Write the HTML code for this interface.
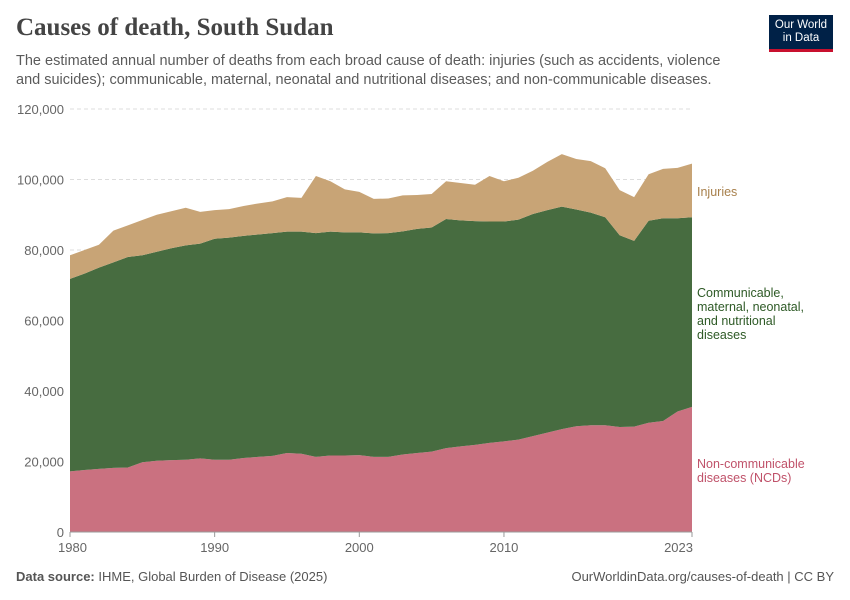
<!DOCTYPE html>
<html><head><meta charset="utf-8"><style>
body{margin:0;width:850px;height:600px;background:#fff;font-family:"Liberation Sans",sans-serif;position:relative;overflow:hidden}
.t{position:absolute;margin:0}
</style></head><body>
<h1 class="t" style="left:16px;top:14px;font-family:'Liberation Serif',serif;font-weight:bold;font-size:25px;color:#444">Causes of death, South Sudan</h1>
<p class="t" style="left:16px;top:52px;width:720px;font-size:14.5px;line-height:19px;color:#5b5b5b">The estimated annual number of deaths from each broad cause of death: injuries (such as accidents, violence and suicides); communicable, maternal, neonatal and nutritional diseases; and non-communicable diseases.</p>
<div style="position:absolute;left:769px;top:15px;width:64px;height:37px;background:#002147;border-bottom:3px solid #c8102e;color:#fff;font-size:11.5px;line-height:13px;text-align:center;padding-top:4px;box-sizing:border-box">Our World<br>in Data</div>
<svg id="c" width="850" height="600" style="position:absolute;left:0;top:0"></svg>
<p class="t" style="left:16px;top:569px;font-size:13px;color:#555"><b>Data source:</b> IHME, Global Burden of Disease (2025)</p>
<p class="t" style="right:16px;top:569px;font-size:13px;color:#555">OurWorldinData.org/causes-of-death | CC BY</p>
<script>
const years=[];for(let y=1980;y<=2023;y++)years.push(y);
const ncdVals=[17.2,17.6,17.9,18.2,18.3,19.8,20.2,20.4,20.5,20.9,20.5,20.5,21,21.3,21.6,22.4,22.2,21.3,21.7,21.7,21.8,21.3,21.3,22,22.4,22.8,23.8,24.3,24.7,25.3,25.7,26.2,27.2,28.2,29.2,30,30.3,30.3,29.8,29.9,31,31.5,34.2,35.5].map(v=>v*1000);
const commVals=[54.6,55.7,57.1,58.3,59.7,58.7,59.3,60.1,60.8,60.9,62.7,63.0,63.0,63.1,63.2,62.8,63.0,63.5,63.5,63.3,63.2,63.4,63.5,63.3,63.6,63.6,65.0,64.1,63.5,62.8,62.4,62.4,63.0,63.1,63.1,61.5,60.3,59.0,54.4,52.7,57.3,57.5,54.8,53.8].map(v=>v*1000);
const injVals=[6.7,6.7,6.5,9.0,9.0,10.0,10.5,10.5,10.7,9.0,8.1,8.1,8.5,8.8,9.0,9.8,9.6,16.2,14.3,12.2,11.5,9.8,9.8,10.2,9.6,9.5,10.7,10.6,10.3,12.9,11.4,11.9,12.3,13.7,14.9,14.3,14.6,13.9,12.8,12.4,13.2,14.0,14.3,15.2].map(v=>v*1000);
const yTicks=[0,20000,40000,60000,80000,100000,120000];
const xTicks=[1980,1990,2000,2010,2023];
const NS='http://www.w3.org/2000/svg',svg=document.getElementById('c');
const x=y=>70+(y-1980)*(692-70)/43, yy=v=>532-v*(532-109)/120000;
function el(t,a){const e=document.createElementNS(NS,t);for(const k in a)e.setAttribute(k,a[k]);svg.appendChild(e);return e;}
yTicks.forEach(v=>{
 if(v>0){const l=el('line',{x1:70,x2:692,y1:yy(v),y2:yy(v),stroke:'#ddd','stroke-dasharray':'4,3'});
 }
 const t=el('text',{x:64,y:yy(v)+5,'text-anchor':'end','font-size':13,fill:'#666'});t.textContent=v.toLocaleString('en-US');
 
});
const series=[[ncdVals,'#ca7180','ncd-area'],[commVals,'#476c40','communicable-area'],[injVals,'#c8a476','injuries-area']];
let base=years.map(()=>0);
series.forEach(([vals,col,nm])=>{
 const top=base.map((b,i)=>b+vals[i]);
 let d=years.map((y,i)=>(i?'L':'M')+x(y)+','+yy(top[i])).join('');
 for(let i=years.length-1;i>=0;i--)d+='L'+x(years[i])+','+yy(base[i]);
 const p=el('path',{d:d+'Z',fill:col});
 
 base=top;
});
const ax=el('line',{x1:70,x2:692,y1:532,y2:532,stroke:'#999'});

xTicks.forEach(yr=>{
 const tk=el('line',{x1:x(yr),x2:x(yr),y1:532,y2:537,stroke:'#999'});
 
 const t=el('text',{x:x(yr),y:552,'text-anchor':yr==2023?'end':(yr==1980?'start':'middle'),'font-size':13,fill:'#666'});
 if(yr==1980)t.setAttribute('x',x(yr)-12);
 if(yr==2023)t.setAttribute('x',x(yr)+1);
 t.textContent=yr;
 
});
const labels=[[['Injuries'],196,'#a8804c','injuries-label'],[['Communicable,','maternal, neonatal,','and nutritional','diseases'],297,'#2e5a26','communicable-label'],[['Non-communicable','diseases (NCDs)'],468,'#c0526a','ncd-label']];
labels.forEach(([lines,y0,col,nm])=>{
 const t=el('text',{x:697,y:y0,'font-size':12.5,fill:col});
 lines.forEach((s,i)=>{const ts=document.createElementNS(NS,'tspan');ts.setAttribute('x',697);ts.setAttribute('y',y0+i*14);ts.textContent=s;t.appendChild(ts);});
 
});
</script>
</body></html>
